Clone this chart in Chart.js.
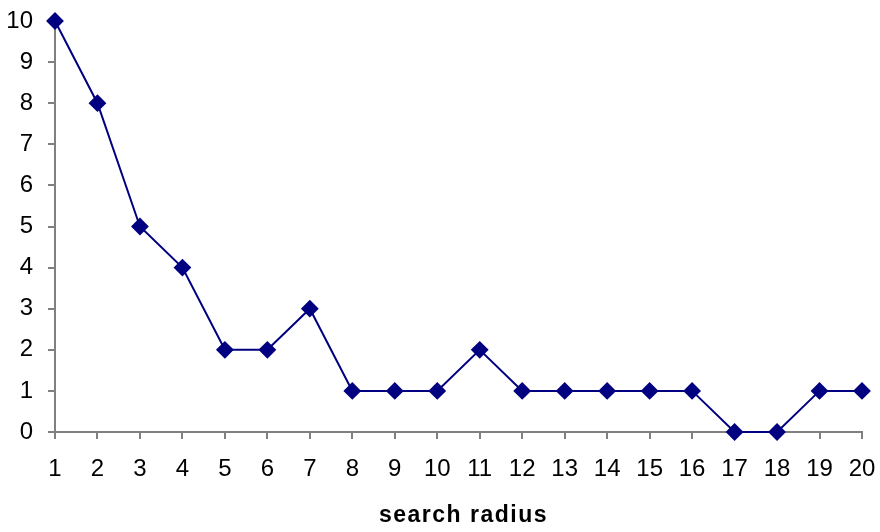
<!DOCTYPE html>
<html>
<head>
<meta charset="utf-8">
<script src="https://cdn.jsdelivr.net/npm/chart.js@4/dist/chart.umd.min.js"></script>
<style>
html,body{margin:0;padding:0;background:#fff;}
#wrap{width:880px;height:532px;position:relative;}
</style>
</head>
<body>
<div id="wrap"><canvas id="c" width="880" height="532"></canvas></div>
<script>
const categories = ['1','2','3','4','5','6','7','8','9','10','11','12','13','14','15','16','17','18','19','20'];
const values = [10,8,5,4,2,2,3,1,1,1,2,1,1,1,1,1,0,0,1,1];
const yTicks = [0,1,2,3,4,5,6,7,8,9,10];
const xTitle = 'search radius';

const titleSpacing = {
  id: 'titleSpacing',
  beforeDraw(chart) {
    const s = chart.scales.x;
    if (!s._wrappedTitle) {
      const orig = s.drawTitle;
      s.drawTitle = function () {
        const ctx = this.ctx;
        ctx.save();
        ctx.translate(5, 0);
        ctx.letterSpacing = '1.5px';
        orig.apply(this, arguments);
        ctx.restore();
      };
      s._wrappedTitle = true;
    }
  }
};

new Chart(document.getElementById('c'), {
  type: 'line',
  data: {
    labels: categories,
    datasets: [{
      data: values,
      borderColor: '#000080',
      backgroundColor: '#000080',
      borderWidth: 2,
      pointStyle: 'rectRot',
      pointRadius: 7.5,
      pointHoverRadius: 7.5,
      tension: 0,
      clip: false
    }]
  },
  plugins: [titleSpacing],
  options: {
    responsive: false,
    animation: false,
    layout: { padding: { top: 21, right: 18, left: 0, bottom: 0 } },
    plugins: { legend: { display: false }, tooltip: { enabled: false } },
    scales: {
      x: {
        offset: false,
        grid: { drawOnChartArea: false, color: '#808080', tickLength: 7, lineWidth: 2 },
        border: { color: '#808080', width: 2 },
        ticks: { color: '#000', font: { family: 'Liberation Sans', size: 24 }, padding: 16, maxRotation: 0, autoSkip: false },
        title: { display: true, text: xTitle, color: '#000', font: { family: 'Liberation Sans', size: 23, weight: 'bold' }, padding: { top: 4, bottom: 3 } },
        afterFit: (s) => { s.height = 100; s.paddingLeft = 0; s.paddingRight = 0; }
      },
      y: {
        min: 0, max: 10,
        afterBuildTicks: (s) => { s.ticks = yTicks.map(v => ({ value: v })); },
        grid: { drawOnChartArea: false, color: '#808080', tickLength: 7, lineWidth: 2 },
        border: { color: '#808080', width: 2 },
        ticks: { color: '#000', font: { family: 'Liberation Sans', size: 24 }, padding: 15 },
        afterFit: (s) => { s.width = 55; s.paddingTop = 0; s.paddingBottom = 0; }
      }
    }
  }
});
</script>
</body>
</html>
